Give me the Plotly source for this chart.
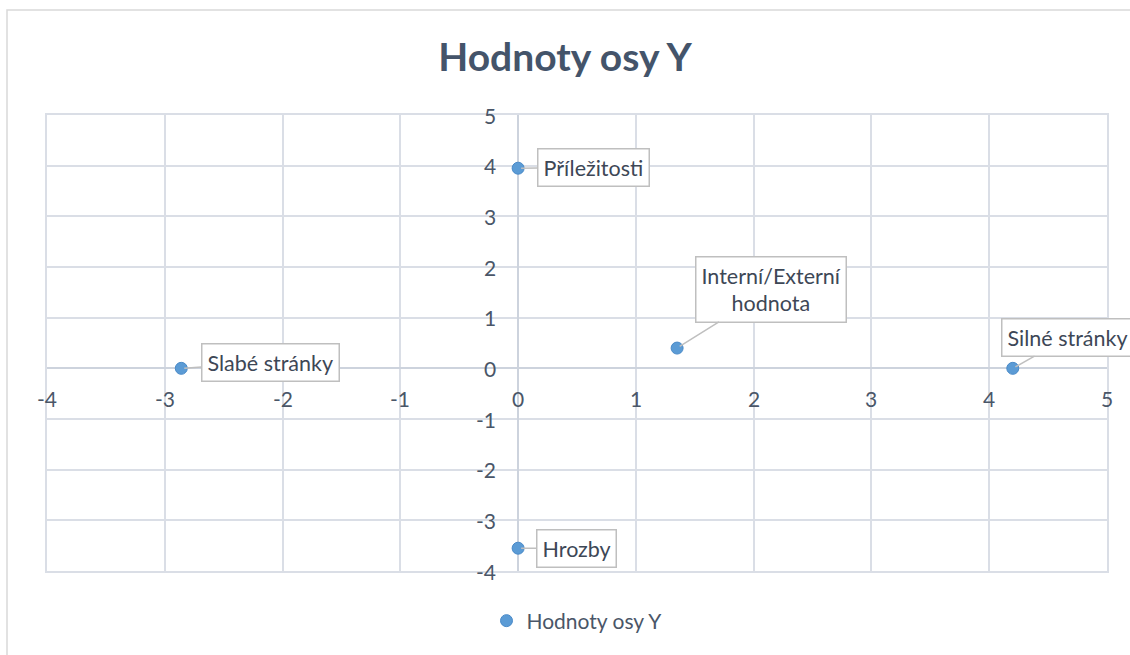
import plotly.graph_objects as go

# Data
labels = ["Slabé stránky", "Příležitosti", "Interní/Externí<br>hodnota", "Silné stránky", "Hrozby"]
x_vals = [-2.86, 0, 1.35, 4.2, 0]
y_vals = [0, 3.95, 0.4, 0, -3.55]
series_name = "Hodnoty osy Y"
x_ticks = [-4, -3, -2, -1, 0, 1, 2, 3, 4, 5]
y_ticks = [5, 4, 3, 2, 1, 0, -1, -2, -3, -4]

# Callout offsets (px from point to box centre)
label_offsets = [(89, -6), (75, -1), (94, -59), (55, -31), (58, 0)]

FONT = "Lato, Carlito, Calibri, sans-serif"
TXT = "#4a5668"
GRID = "#dadee6"

fig = go.Figure()
fig.add_trace(go.Scatter(
    x=x_vals, y=y_vals, mode="markers", name=series_name,
    marker=dict(size=12, color="#5b9bd5", line=dict(color="#4a8ac8", width=1)),
    showlegend=True,
))

annotations = []
for lab, xv, yv, (ax, ay) in zip(labels, x_vals, y_vals, label_offsets):
    annotations.append(dict(
        x=xv, y=yv, xref="x", yref="y", text=lab, showarrow=True,
        ax=ax, ay=ay, arrowhead=0, arrowwidth=1.5, arrowcolor="#bfbfbf",
        standoff=3, bgcolor="white", bordercolor="#bfbfbf", borderwidth=1.5,
        borderpad=5, font=dict(family=FONT, size=21.5, color="#3d4756"),
    ))

for t in x_ticks:
    annotations.append(dict(
        x=t, y=0, xref="x", yref="y", text=str(t), showarrow=False,
        yshift=-30, xanchor="center", yanchor="middle",
        font=dict(family=FONT, size=21, color=TXT),
    ))
for t in y_ticks:
    annotations.append(dict(
        x=0, y=t, xref="x", yref="y", text=str(t), showarrow=False,
        xshift=-20, xanchor="right", yanchor="middle",
        font=dict(family=FONT, size=21, color=TXT),
    ))

fig.update_layout(
    width=1130, height=655,
    margin=dict(l=47, r=23, t=115, b=84),
    paper_bgcolor="white", plot_bgcolor="white",
    title=dict(text="<b>Hodnoty osy Y</b>", x=0.5, xanchor="center",
               y=1 - 57 / 655, yanchor="middle",
               font=dict(family=FONT, size=39, color="#44546a")),
    xaxis=dict(range=[-4, 5], dtick=1, tick0=0, showticklabels=False,
               showgrid=True, gridcolor=GRID, gridwidth=1.5,
               zeroline=True, zerolinecolor="#cdd3dd", zerolinewidth=1.5,
               showline=True, linecolor=GRID, linewidth=1.5, mirror=True,
               ticks="", fixedrange=True),
    yaxis=dict(range=[-4, 5], dtick=1, tick0=0, showticklabels=False,
               showgrid=True, gridcolor=GRID, gridwidth=1.5,
               zeroline=True, zerolinecolor="#cdd3dd", zerolinewidth=1.5,
               showline=True, linecolor=GRID, linewidth=1.5, mirror=True,
               ticks="", fixedrange=True),
    legend=dict(orientation="h", x=0.5, xanchor="center",
                y=(571 - 621) / 456, yanchor="middle",
                font=dict(family=FONT, size=21, color=TXT),
                bgcolor="rgba(0,0,0,0)", itemwidth=30),
    annotations=annotations,
    shapes=[dict(type="rect", xref="paper", yref="paper",
                 x0=(7 - 47) / 1060, x1=1.2, y0=-0.3, y1=(571 - 10) / 456,
                 line=dict(color="#d9d9d9", width=1.5), layer="below")],
)

fig.write_html(
    "out.html",
    config={"displayModeBar": False},
    post_script="document.body.style.margin='0';document.body.style.overflow='hidden';",
)
